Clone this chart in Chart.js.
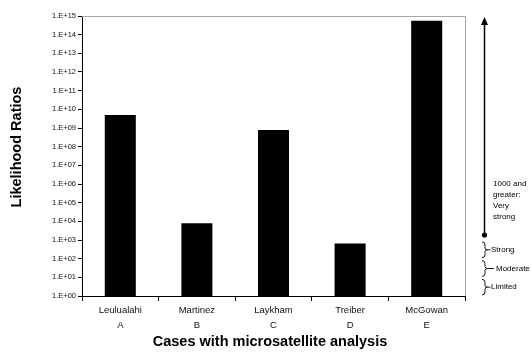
<!DOCTYPE html>
<html>
<head>
<meta charset="utf-8">
<script src="https://cdn.jsdelivr.net/npm/chart.js@4"></script>
<style>
  html, body { margin: 0; padding: 0; background: #fff; }
  #wrap { width: 531px; height: 353px; }
</style>
</head>
<body>
<div id="wrap"><canvas id="lrChart" width="531" height="353"></canvas></div>
<script>
// data
const categories = ['Leulualahi', 'Martinez', 'Laykham', 'Treiber', 'McGowan'];
const caseLetters = ['A', 'B', 'C', 'D', 'E'];
const likelihoodRatios = [5e9, 8e3, 7.8e8, 6.5e2, 5.5e14];
const tickExponents = [0, 1, 2, 3, 4, 5, 6, 7, 8, 9, 10, 11, 12, 13, 14, 15];
const bandLabels = ['Limited', 'Moderate', 'Strong'];
const bandEdges = [1, 10, 100, 1000];
const veryStrongLines = ['1000 and', 'greater:', 'Very', 'strong'];

const FONT = "'Liberation Sans', Arial, sans-serif";

function fmtTick(v) {
  const e = Math.round(Math.log10(v));
  return '1.E+' + (e < 10 ? '0' + e : e);
}

// extra drawing: frame, titles, strength scale on the right
const annotations = {
  id: 'annotations',
  afterDraw(chart) {
    const c = chart.ctx;
    const a = chart.chartArea;
    const y = chart.scales.y;
    c.save();

    // gray top / right frame
    c.strokeStyle = '#a8a8a8';
    c.lineWidth = 1;
    c.beginPath();
    c.moveTo(a.left, a.top + 0.5);
    c.lineTo(a.right + 0.5, a.top + 0.5);
    c.lineTo(a.right + 0.5, a.bottom);
    c.stroke();

    // axis titles
    c.fillStyle = '#000';
    c.font = 'bold 14.5px ' + FONT;
    c.textAlign = 'center';
    c.textBaseline = 'middle';
    c.fillText('Cases with microsatellite analysis', 270, 342);
    c.save();
    c.translate(17, 147);
    c.rotate(-Math.PI / 2);
    c.fillText('Likelihood Ratios', 0, 0);
    c.restore();

    // arrow for "very strong"
    const ax = 484.5;
    const dotY = y.getPixelForValue(bandEdges[3]) - 5;
    c.strokeStyle = '#000';
    c.lineWidth = 1.5;
    c.beginPath();
    c.moveTo(ax, dotY);
    c.lineTo(ax, a.top + 6);
    c.stroke();
    c.beginPath();
    c.moveTo(ax, a.top + 1);
    c.lineTo(ax - 3.5, a.top + 9);
    c.lineTo(ax + 3.5, a.top + 9);
    c.closePath();
    c.fillStyle = '#000';
    c.fill();
    c.beginPath();
    c.arc(ax, dotY, 2.6, 0, Math.PI * 2);
    c.fill();

    c.font = '8px ' + FONT;
    c.textAlign = 'left';
    veryStrongLines.forEach((t, i) => c.fillText(t, 493, 184 + i * 11));

    // braces
    c.lineWidth = 0.9;
    bandLabels.forEach((lab, i) => {
      const y0 = y.getPixelForValue(bandEdges[i + 1]) + 2;
      const y1 = y.getPixelForValue(bandEdges[i]) - 1;
      const mid = (y0 + y1) / 2;
      const x = 482;
      c.beginPath();
      c.moveTo(x, y0);
      c.quadraticCurveTo(x + 3, y0, x + 3, y0 + 3);
      c.lineTo(x + 3, mid - 2);
      c.quadraticCurveTo(x + 3, mid, x + 5.5, mid);
      c.quadraticCurveTo(x + 3, mid, x + 3, mid + 2);
      c.lineTo(x + 3, y1 - 3);
      c.quadraticCurveTo(x + 3, y1, x, y1);
      c.stroke();
      let lx = 491;
      if (lab === 'Moderate') {
        c.beginPath();
        c.moveTo(x + 5.5, mid);
        c.lineTo(x + 12, mid);
        c.stroke();
        lx = 496;
      } else {
        c.beginPath();
        c.moveTo(x + 5.5, mid);
        c.lineTo(x + 8.5, mid);
        c.stroke();
      }
      c.fillText(lab, lx, mid);
    });

    c.restore();
  }
};

const ctx = document.getElementById('lrChart');
new Chart(ctx, {
  type: 'bar',
  data: {
    labels: categories.map((n, i) => [n, caseLetters[i]]),
    datasets: [{
      data: likelihoodRatios,
      backgroundColor: '#000',
      borderWidth: 0,
      barPercentage: 0.405,
      categoryPercentage: 1
    }]
  },
  options: {
    responsive: false,
    animation: false,
    layout: { padding: { top: 16, right: 66, left: 0, bottom: 0 } },
    plugins: { legend: { display: false }, tooltip: { enabled: false } },
    scales: {
      x: {
        grid: { offset: true, drawOnChartArea: false, color: '#000', tickLength: 5 },
        border: { color: '#000', width: 1 },
        ticks: { color: '#111', font: { family: FONT, size: 9.5, lineHeight: 1.6 }, padding: 2, maxRotation: 0 },
        afterFit(s) { s.height = 57; }
      },
      y: {
        type: 'logarithmic',
        min: 1,
        max: 1e15,
        afterBuildTicks(s) { s.ticks = tickExponents.map(e => ({ value: Math.pow(10, e) })); },
        grid: { drawOnChartArea: false, color: '#000', tickLength: 4 },
        border: { color: '#000', width: 1 },
        ticks: { color: '#111', font: { family: FONT, size: 7.5 }, padding: 2, callback: v => fmtTick(v) },
        afterFit(s) { s.width = 82; }
      }
    }
  },
  plugins: [annotations]
});
</script>
</body>
</html>
